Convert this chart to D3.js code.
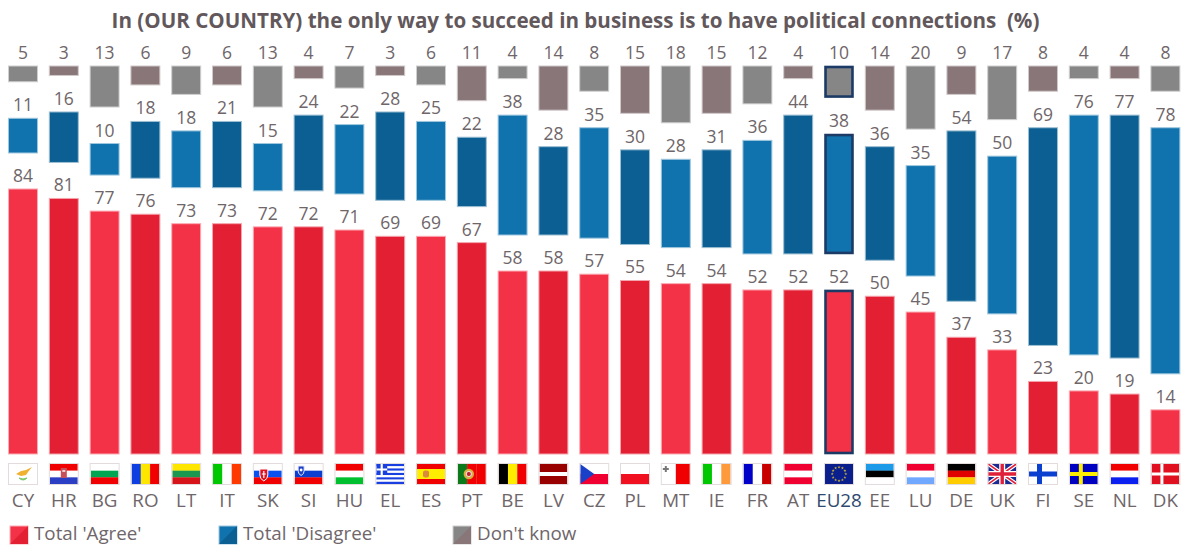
<!DOCTYPE html>
<html>
<head>
<meta charset="utf-8">
<script src="https://cdnjs.cloudflare.com/ajax/libs/d3/7.8.5/d3.min.js"></script>
<style>
  html, body { margin: 0; padding: 0; background: #fff; overflow: hidden; }
  text { font-family: "Open Sans", sans-serif; fill: #6f666a; }
</style>
</head>
<body>
<div id="chart"></div>
<script>
var titleText = "In (OUR COUNTRY) the only way to succeed in business is to have political connections  (%)";
var countries = ["CY","HR","BG","RO","LT","IT","SK","SI","HU","EL","ES","PT","BE","LV","CZ","PL","MT","IE","FR","AT","EU28","EE","LU","DE","UK","FI","SE","NL","DK"];
var agree    = [84,81,77,76,73,73,72,72,71,69,69,67,58,58,57,55,54,54,52,52,52,50,45,37,33,23,20,19,14];
var disagree = [11,16,10,18,18,21,15,24,22,28,25,22,38,28,35,30,28,31,36,44,38,36,35,54,50,69,76,77,78];
var dontKnow = [5,3,13,6,9,6,13,4,7,3,6,11,4,14,8,15,18,15,12,4,10,14,20,9,17,8,4,4,8];
var legendLabels = ["Total 'Agree'", "Total 'Disagree'", "Don't know"];

var width = 1183, height = 546,
    barBottom = 454,
    unit = 3.155,
    rowGap = 36,
    dkTop = 66,
    highlight = "EU28";

// light / dark pairs, bars alternate between them
var reds = ["#f43247", "#e31f33"],
    blues = ["#1073ad", "#0b5f92"],
    greys = ["#868686", "#897678"];

var x = d3.scaleBand().domain(countries).range([2.6, 1185.8]).paddingInner(0.29).paddingOuter(0.145);
var len = d3.scaleLinear().domain([0, 100]).range([0, 100 * unit]);

var svg = d3.select("#chart").append("svg")
    .attr("width", width)
    .attr("height", height);

svg.append("text")
    .attr("x", 575.5)
    .attr("y", 28)
    .attr("text-anchor", "middle")
    .style("font-size", "20.6px")
    .style("font-weight", 700)
    .style("fill", "#62585c")
    .style("white-space", "pre")
    .text(titleText);

var rows = countries.map(function (c, i) {
    var agreeTop = barBottom - len(agree[i]);
    var disBottom = agreeTop - rowGap;
    return [
        {c: c, i: i, v: agree[i], top: agreeTop, colors: reds},
        {c: c, i: i, v: disagree[i], top: disBottom - len(disagree[i]), colors: blues},
        {c: c, i: i, v: dontKnow[i], top: dkTop, colors: greys}
    ];
});
var cells = d3.merge(rows);

function edge(col) {
    return d3.interpolateRgb(col, "#ffffff")(0.6);
}

// the highlighted column keeps its outline inside the bar
function inset(d) {
    return d.c === highlight ? 1 : 0;
}

svg.append("g").selectAll("rect")
    .data(cells)
    .enter().append("rect")
    .attr("x", function (d) { return x(d.c) + inset(d); })
    .attr("y", function (d) { return d.top + inset(d); })
    .attr("width", function (d) { return x.bandwidth() - 2 * inset(d); })
    .attr("height", function (d) { return len(d.v) - 2 * inset(d); })
    .attr("fill", function (d) { return d.colors[d.i % 2]; })
    .attr("stroke", function (d) { return d.c === highlight ? "#1c3a66" : edge(d.colors[d.i % 2]); })
    .attr("stroke-width", function (d) { return d.c === highlight ? 2.6 : 1; });

svg.append("g").selectAll("text")
    .data(cells)
    .enter().append("text")
    .attr("x", function (d) { return x(d.c) + x.bandwidth() / 2; })
    .attr("y", function (d) { return d.top - 7; })
    .attr("text-anchor", "middle")
    .style("font-size", "17.5px")
    .text(function (d) { return d.v; });

// country codes under the flags
var axis = svg.append("g")
    .attr("transform", "translate(0,489)")
    .call(d3.axisBottom(x).tickSize(0).tickPadding(0));
axis.select(".domain").remove();
axis.selectAll("text")
    .attr("y", 0)
    .attr("dy", "0.95em")
    .style("font-size", "18.8px")
    .style("font-family", '"Open Sans", sans-serif')
    .style("fill", function (d) { return d === highlight ? "#2f4a70" : "#6f666a"; });

// flags
var flagW = 28, flagH = 20;
var stripes = {
    CY: ["h", ["#fff"]],
    HR: ["h", ["#f00000", "#fff", "#2b3fc4"]],
    BG: ["h", ["#fff", "#00a651", "#f00000"]],
    RO: ["v", ["#0f3fe0", "#ffe600", "#f00000"]],
    LT: ["h", ["#ffe600", "#1a9850", "#d7141a"]],
    IT: ["v", ["#00c800", "#fff", "#ff3a00"]],
    SK: ["h", ["#fff", "#0b50f0", "#f00000"]],
    SI: ["h", ["#fff", "#0b3fd0", "#f00000"]],
    HU: ["h", ["#f00000", "#fff", "#00c030"]],
    EL: ["h", ["#1a3fe0", "#fff", "#1a3fe0", "#fff", "#1a3fe0", "#fff", "#1a3fe0", "#fff", "#1a3fe0"]],
    ES: ["h", ["#f00000", "#ffee00", "#ffee00", "#f00000"]],
    PT: ["v", ["#0a7a1a", "#f00000", "#f00000"]],
    BE: ["v", ["#000", "#ffee00", "#f00000"]],
    LV: ["h", ["#990000", "#990000", "#fff", "#990000", "#990000"]],
    CZ: ["h", ["#fff", "#f00030"]],
    PL: ["h", ["#fff", "#f01020"]],
    MT: ["v", ["#fff", "#f00000"]],
    IE: ["v", ["#00c800", "#fff", "#ff9a3c"]],
    FR: ["v", ["#0000c8", "#fff", "#c80000"]],
    AT: ["h", ["#f00030", "#fff", "#f00030"]],
    EU28: ["h", ["#0a1f8c"]],
    EE: ["h", ["#1e9be8", "#000", "#fff"]],
    LU: ["h", ["#f00030", "#fff", "#70a8ff"]],
    DE: ["h", ["#000", "#e00000", "#ffcc00"]],
    UK: ["h", ["#1a2a90"]],
    FI: ["h", ["#fff"]],
    SE: ["h", ["#0000c0"]],
    NL: ["h", ["#f00000", "#fff", "#0a1ff0"]],
    DK: ["h", ["#e01020"]]
};
// cross arms: [colour, vertical arm x, thickness]
var crosses = {FI: ["#0a3fd0", 8, 5], SE: ["#ffee00", 9, 4], DK: ["#fff", 9, 3]};

var defs = svg.append("defs");
defs.append("clipPath").attr("id", "flagclip").append("rect")
    .attr("width", flagW).attr("height", flagH);

var flags = svg.append("g").selectAll("g")
    .data(countries)
    .enter().append("g")
    .attr("transform", function (c) { return "translate(" + (x(c) + 0.5) + ",464)"; });

flags.each(function (c) {
    var g = d3.select(this), s = stripes[c];
    var inner = g.append("g").attr("clip-path", "url(#flagclip)");
    var n = s[1].length;
    inner.selectAll("rect").data(s[1]).enter().append("rect")
        .attr("x", function (d, i) { return s[0] === "v" ? i * flagW / n : 0; })
        .attr("y", function (d, i) { return s[0] === "h" ? i * flagH / n : 0; })
        .attr("width", s[0] === "v" ? flagW / n + 0.2 : flagW)
        .attr("height", s[0] === "h" ? flagH / n + 0.2 : flagH)
        .attr("fill", function (d) { return d; });

    if (crosses[c]) {
        var cr = crosses[c];
        inner.append("rect").attr("x", cr[1]).attr("y", 0).attr("width", cr[2]).attr("height", flagH).attr("fill", cr[0]);
        inner.append("rect").attr("x", 0).attr("y", (flagH - cr[2]) / 2).attr("width", flagW).attr("height", cr[2]).attr("fill", cr[0]);
    }
    if (c === "CY") {
        inner.append("path").attr("d", "M7 10 L12 7 L17 6 L23 3 L19 8 L17 11 L12 12 Z").attr("fill", "#f0b030");
        inner.append("path").attr("d", "M10 14 Q14 18 18 14 Q14 16 10 14 Z").attr("fill", "#7cc86c").attr("stroke", "#7cc86c");
    }
    if (c === "HR") {
        inner.append("rect").attr("x", 11).attr("y", 4).attr("width", 6).attr("height", 10).attr("fill", "#c8505a");
        inner.append("rect").attr("x", 12.5).attr("y", 6).attr("width", 3).attr("height", 2).attr("fill", "#f3d0d0");
    }
    if (c === "SK") {
        inner.append("path").attr("d", "M6 5 h8 v6 q0 4 -4 6 q-4 -2 -4 -6 Z").attr("fill", "#e01020").attr("stroke", "#fff");
        inner.append("path").attr("d", "M10 7 v7 M8 10 h4").attr("stroke", "#fff").attr("stroke-width", 1.2);
    }
    if (c === "SI") {
        inner.append("path").attr("d", "M3.5 2 h6 v5 q0 3 -3 4.5 q-3 -1.5 -3 -4.5 Z").attr("fill", "#1a3fc8").attr("stroke", "#e8e8f8");
        inner.append("circle").attr("cx", 6.5).attr("cy", 6).attr("r", 1.4).attr("fill", "#fff");
    }
    if (c === "EL") {
        inner.append("rect").attr("width", 11).attr("height", 11).attr("fill", "#1a3fe0");
        inner.append("path").attr("d", "M5.5 0 V11 M0 5.5 H11").attr("stroke", "#fff").attr("stroke-width", 2.2);
    }
    if (c === "ES") {
        inner.append("rect").attr("x", 6).attr("y", 6.5).attr("width", 6).attr("height", 7).attr("rx", 2).attr("fill", "#d98a3c");
    }
    if (c === "PT") {
        inner.append("circle").attr("cx", 11).attr("cy", 10).attr("r", 5.2).attr("fill", "#d8b040");
        inner.append("circle").attr("cx", 11).attr("cy", 10).attr("r", 2.6).attr("fill", "#c8202c").attr("stroke", "#eee");
    }
    if (c === "CZ") {
        inner.append("path").attr("d", "M0 0 L14 10 L0 20 Z").attr("fill", "#1a3fc8");
    }
    if (c === "MT") {
        inner.append("path").attr("d", "M3 2 h2 v2 h2 v2 h-2 v2 h-2 v-2 h-2 v-2 h2 Z").attr("fill", "#777");
    }
    if (c === "EU28") {
        inner.selectAll("path").data(d3.range(12)).enter().append("path")
            .attr("d", d3.symbol(d3.symbolStar, 3))
            .attr("transform", function (k) {
                var a = k * Math.PI / 6;
                return "translate(" + (flagW / 2 + 6.8 * Math.cos(a)) + "," + (flagH / 2 + 6.8 * Math.sin(a)) + ")";
            })
            .attr("fill", "#c8b040");
    }
    if (c === "UK") {
        inner.append("path").attr("d", "M0 0 L28 20 M28 0 L0 20").attr("stroke", "#fff").attr("stroke-width", 4);
        inner.append("path").attr("d", "M0 0 L28 20 M28 0 L0 20").attr("stroke", "#e0203a").attr("stroke-width", 1.6);
        inner.append("path").attr("d", "M14 0 V20 M0 10 H28").attr("stroke", "#fff").attr("stroke-width", 6);
        inner.append("path").attr("d", "M14 0 V20 M0 10 H28").attr("stroke", "#e0203a").attr("stroke-width", 3.4);
    }
    g.append("rect")
        .attr("x", -0.5).attr("y", -0.5)
        .attr("width", flagW + 1).attr("height", flagH + 1)
        .attr("fill", "none")
        .attr("stroke", "#e4dcdc");
});

// legend
var legendX = d3.scaleOrdinal().domain(legendLabels).range([10, 219, 453]);
var legendColors = [reds, blues, greys];
var swatch = 18;

var legend = svg.append("g").selectAll("g")
    .data(legendLabels)
    .enter().append("g")
    .attr("transform", function (d) { return "translate(" + legendX(d) + ",526)"; });

legend.append("rect")
    .attr("width", swatch).attr("height", swatch)
    .attr("fill", function (d, i) { return legendColors[i][0]; })
    .attr("stroke", function (d, i) { return edge(legendColors[i][0]); });
legend.append("path")
    .attr("d", "M" + swatch + " 0 V" + swatch + " H0 Z")
    .attr("fill", function (d, i) { return legendColors[i][1]; });
legend.append("text")
    .attr("x", swatch + 6)
    .attr("y", 14)
    .style("font-size", "18.8px")
    .text(function (d) { return d; });
</script>
</body>
</html>
